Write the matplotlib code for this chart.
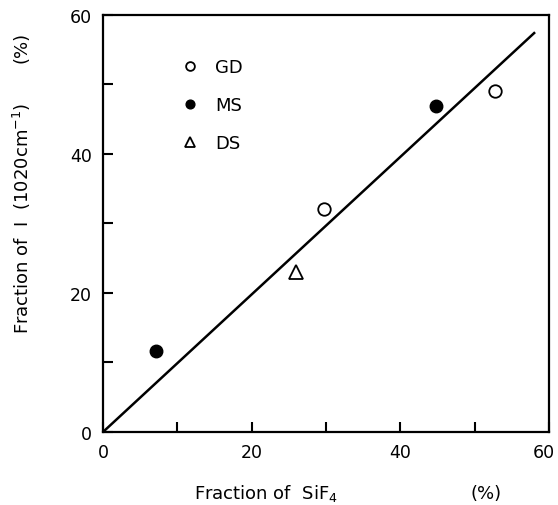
import matplotlib
matplotlib.use("Agg")
import matplotlib.pyplot as plt
import matplotlib.transforms as mtransforms
from matplotlib.ticker import MultipleLocator

# data
gd_x = [29.7, 52.8]
gd_y = [32.1, 49.1]
ms_x = [7.1, 44.8]
ms_y = [11.7, 46.9]
ds_x = [25.9]
ds_y = [23.0]
fit_x = [0, 58]
fit_y = [0, 57.4]
tick_vals = [0, 20, 40, 60]
tick_labels = ['0', '20', '40', '60']

plt.rcParams['font.family'] = ['DejaVu Sans']

fig = plt.figure(figsize=(5.58, 5.06), dpi=100)
ax = fig.add_axes([0.1846, 0.1443, 0.7993, 0.8241])

ax.plot(fit_x, fit_y, color='black', lw=1.8)
ax.plot(gd_x, gd_y, 'o', mfc='white', mec='black', mew=1.3, ms=9, label='GD')
ax.plot(ms_x, ms_y, 'o', color='black', ms=9, label='MS')
ax.plot(ds_x, ds_y, '^', mfc='white', mec='black', mew=1.3, ms=10, label='DS')

ax.set_xlim(0, 60)
ax.set_ylim(0, 60)
ax.set_xticks(tick_vals)
ax.set_xticklabels(tick_labels)
ax.set_yticks(tick_vals)
ax.set_yticklabels(tick_labels)
ax.xaxis.set_minor_locator(MultipleLocator(10))
ax.yaxis.set_minor_locator(MultipleLocator(10))
ax.tick_params(which='both', direction='in', length=7, width=1.5, labelsize=12.5)
ax.tick_params(axis='x', pad=8)
ax.tick_params(axis='y', pad=8)
for s in ax.spines.values():
    s.set_linewidth(1.6)

# keep the "60" on the x axis inside the figure
last = ax.get_xticklabels()[-1]
last.set_horizontalalignment('right')
last.set_transform(last.get_transform() +
                   mtransforms.ScaledTranslation(0.06, 0, fig.dpi_scale_trans))

leg = ax.legend(loc='upper left', bbox_to_anchor=(0.138, 0.935), frameon=False,
                fontsize=13, markerscale=0.7, handlelength=1.0, handletextpad=0.9,
                labelspacing=1.1, numpoints=1)

fig.text(266 / 558, 1 - 494 / 506, 'Fraction of  SiF$_4$', fontsize=13,
         ha='center', va='center')
fig.text(486 / 558, 1 - 494 / 506, '(%)', fontsize=13, ha='center', va='center')
fig.text(22 / 558, 1 - 218 / 506, 'Fraction of  I  (1020cm$^{-1}$)', fontsize=13,
         rotation=90, ha='center', va='center')
fig.text(22 / 558, 1 - 47 / 506, '(%)', fontsize=13, rotation=90,
         ha='center', va='center')

fig.savefig('out.png', dpi=100)
